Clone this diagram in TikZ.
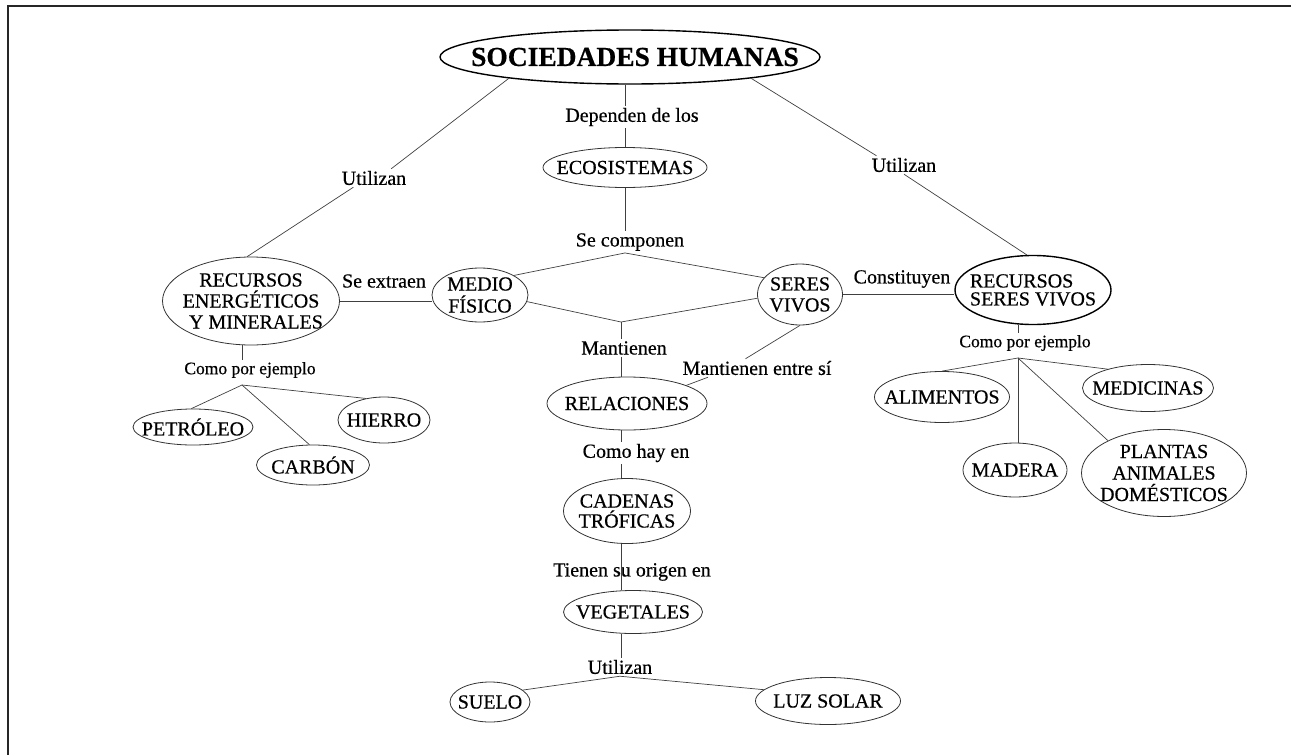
\documentclass[tikz,border=0pt]{standalone}
\usepackage{fontspec}
\setmainfont{Liberation Serif}[FakeBold=0.5]
\usetikzlibrary{shapes.geometric,calc}
\begin{document}
\begin{tikzpicture}[x=1pt,y=-1pt,
  concept/.style={ellipse, draw=black!80, line width=0.8pt, inner sep=-80pt, align=center, font=\fontsize{20}{21}\selectfont},
  strong/.style={line width=1.4pt, draw=black},
  lbl/.style={inner sep=2pt, font=\fontsize{20}{22}\selectfont},
  smalllbl/.style={inner sep=2pt, font=\fontsize{17.5}{19}\selectfont},
  link/.style={draw=black!75, line width=0.7pt}]
\useasboundingbox (0,0) rectangle (1291,755);
\draw[line width=2pt, black!85] (8.3,755) -- (8.3,6.3) -- (1291,6.3);

\coordinate (b1) at (242,385);
\coordinate (b2) at (1018,358);
\coordinate (manap) at (621,322);

\node[concept, strong, minimum width=380, minimum height=54, font=\bfseries\fontsize{27.5}{30}\selectfont] (soc) at (630,57) {\hspace*{10pt}SOCIEDADES HUMANAS};
\node[lbl] (dep) at (632,117) {Dependen de los};
\node[concept, minimum width=164, minimum height=40] (eco) at (625,167.5) {ECOSISTEMAS};
\node[lbl] (secomp) at (630,242) {Se componen};
\node[concept, minimum width=96, minimum height=54, font=\fontsize{20}{22}\selectfont] (medio) at (480,295) {MEDIO\\FÍSICO};
\node[concept, minimum width=85, minimum height=61, font=\fontsize{20}{21}\selectfont] (seres) at (800,294.5) {SERES\\VIVOS};
\node[concept, minimum width=177, minimum height=88, font=\fontsize{20}{21}\selectfont] (rem) at (251,301) {RECURSOS\\ENERGÉTICOS\\\hspace*{10pt}Y MINERALES};
\node[lbl] (util1) at (374,178) {Utilizan};
\node[lbl] (sext) at (384,281) {Se extraen};
\node[lbl] (util2) at (904,165) {Utilizan};
\node[lbl] (constit) at (902,279) {Constituyen};
\node[concept, strong, minimum width=156, minimum height=69, align=left, font=\fontsize{20}{18}\selectfont] (rsv) at (1033,290) {RECURSOS\\SERES VIVOS};
\node[lbl] (mant) at (624,348) {Mantienen};
\node[lbl] (mantes) at (757,368) {Mantienen entre sí};
\node[concept, minimum width=160, minimum height=53] (rel) at (627,403.5) {RELACIONES};
\node[lbl] (comohay) at (636,453) {Como hay en};
\node[concept, minimum width=127, minimum height=65, font=\fontsize{20}{20}\selectfont] (cad) at (627,511) {CADENAS\\TRÓFICAS};
\node[lbl] (tienen) at (632,572) {Tienen su origen en};
\node[concept, minimum width=139, minimum height=43] (veg) at (633,612) {VEGETALES};
\node[lbl] (util3) at (620,667) {Utilizan};
\node[concept, minimum width=80, minimum height=40] (suelo) at (490,702) {SUELO};
\node[concept, minimum width=145, minimum height=47] (luz) at (828,701) {LUZ SOLAR};

\node[smalllbl] (cpe1) at (250,370) {Como por ejemplo};
\node[concept, minimum width=120, minimum height=36] (petr) at (193,427) {PETRÓLEO};
\node[concept, minimum width=113, minimum height=40] (carb) at (313,465) {CARBÓN};
\node[concept, minimum width=92, minimum height=46] (hier) at (384,420) {HIERRO};

\node[smalllbl] (cpe2) at (1025,343) {Como por ejemplo};
\node[concept, minimum width=135, minimum height=51] (alim) at (942,397) {ALIMENTOS};
\node[concept, minimum width=131, minimum height=47] (medic) at (1148,388) {MEDICINAS};
\node[concept, minimum width=104, minimum height=54] (mad) at (1015,470) {MADERA};
\node[concept, minimum width=165, minimum height=87, font=\fontsize{20}{21.5}\selectfont] (plant) at (1164,473) {PLANTAS\\ANIMALES\\DOMÉSTICOS};

% connectors
\draw[link] (eco |- soc.south) -- (eco |- dep.north);
\draw[link] (eco |- dep.south) -- (eco.north);
\draw[link] (eco.south) -- (eco |- secomp.north);
\draw[link] (medio.30) -- (secomp.south -| eco) -- (seres.155);
\draw[link] (rem.east) -- (rem.east -| medio.west);
\draw[link] (seres.east) -- (seres.east -| rsv.west);
\draw[link] (soc.190) -- ($(util1.north)!0.5!(util1.north east)$);
\draw[link] ($(util1.south)!0.6!(util1.south west)$) -- (rem.95);
\draw[link] (soc.-10) -- ($(util2.north west)!0.1!(util2.north east)$);
\draw[link] (util2.south) -- (rsv.100);
\draw[link] (medio.-8) -- (manap) -- (seres.185);
\draw[link] (manap) -- (manap |- mant.north);
\draw[link] (manap |- mant.south) -- (manap |- rel.north);
\draw[link] (seres.south) -- ($(mantes.north)!0.15!(mantes.north west)$);
\draw[link] ($(mantes.south west)!0.18!(mantes.south east)$) -- (rel.17);
\draw[link] (manap |- rel.south) -- (manap |- comohay.north);
\draw[link] (manap |- comohay.south) -- (manap |- cad.north);
\draw[link] (manap |- cad.south) -- (manap |- veg.north);
\draw[link] (manap |- veg.south) -- (manap |- util3.north);
\draw[link] (suelo.20) -- (util3.south) -- (luz.170);

\draw[link] (b1 |- rem.south) -- (b1 |- cpe1.north);
\draw[link] (petr.95) -- (b1) -- (carb.100);
\draw[link] (b1) -- (hier.130);
\draw[link] (b2 |- rsv.south) -- (b2 |- cpe2.north);
\draw[link] (alim.north) -- (b2) -- (medic.155);
\draw[link] (b2) -- (b2 |- mad.north);
\draw[link] (b2) -- (plant.150);
\end{tikzpicture}
\end{document}
